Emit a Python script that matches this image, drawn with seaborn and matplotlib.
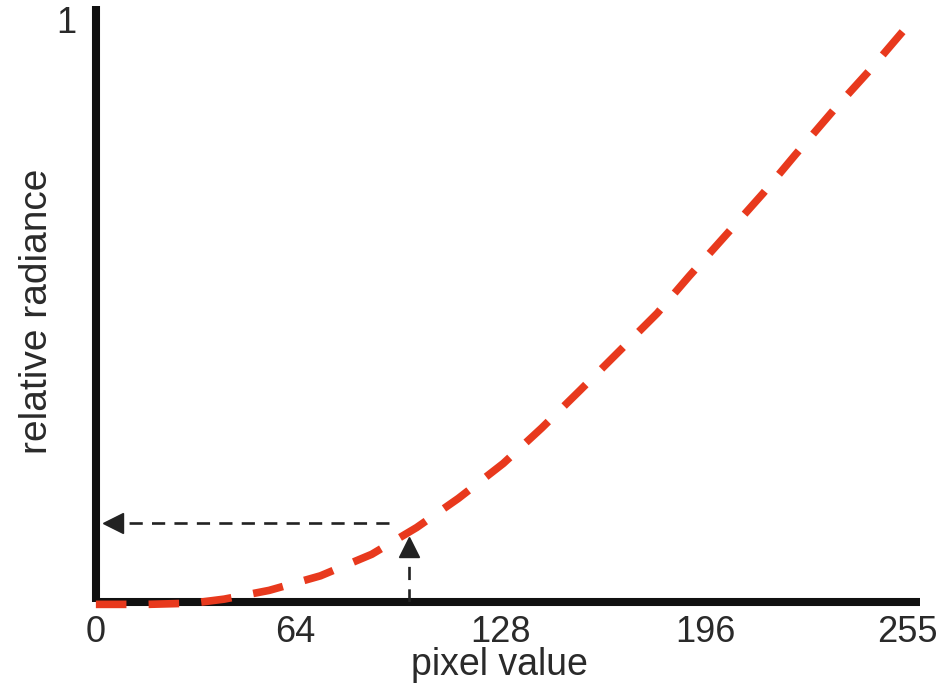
import matplotlib
matplotlib.use("Agg")
import matplotlib.pyplot as plt
from matplotlib.transforms import ScaledTranslation
import seaborn as sns
import pandas as pd

# ---- data ----
pixel_value = [0, 16, 30, 40, 54, 70, 86, 100, 113, 127, 139, 151, 163, 175, 185,
               197, 208, 218, 230, 241, 252, 255]
relative_radiance = [-0.004, -0.004, -0.002, 0.005, 0.020, 0.045, 0.082, 0.128, 0.178,
                     0.238, 0.299, 0.364, 0.430, 0.496, 0.560, 0.634, 0.702, 0.768,
                     0.845, 0.912, 0.983, 1.0]

x_ticks = [0, 64, 128, 192, 255]
x_tick_labels = ["0", "64", "128", "196", "255"]
y_ticks = [1]
y_tick_labels = ["1"]

# sample lookup shown with arrows
sample_pixel = 97.5
sample_radiance = 0.136
sample_arrow_tip_y = 0.11
sample_arrow_tip_x = 2.0

sns.set_theme(style="white")
plt.rcParams["font.family"] = ["Liberation Sans", "DejaVu Sans"]

fig = plt.figure(figsize=(9.4, 6.86), dpi=100)
ax = fig.add_axes([0.102, 0.1224, 0.877, 0.869])

df = pd.DataFrame({"pixel value": pixel_value, "relative radiance": relative_radiance})
red = "#E8391D"
sns.lineplot(data=df, x="pixel value", y="relative radiance", ax=ax, sort=False,
             estimator=None, color=red, lw=5.5, zorder=5, clip_on=False)
ax.lines[-1].set_dashes((4, 2.9))
ax.lines[-1].set_dash_capstyle("butt")

# dashed lookup arrows
dk = "#222222"
ax.plot([sample_pixel, sample_pixel], [0, sample_arrow_tip_y - 0.025], color=dk, lw=1.9,
        dashes=(5, 3.5), zorder=3)
ax.plot([sample_pixel], [sample_arrow_tip_y - 0.015], marker="^", ms=15, color=dk,
        mec=dk, zorder=4, clip_on=False)
ax.plot([sample_pixel - 6, sample_arrow_tip_x + 6], [sample_radiance, sample_radiance],
        color=dk, lw=1.9, dashes=(5, 3.5), zorder=3)
ax.plot([sample_arrow_tip_x + 3.2], [sample_radiance], marker="<", ms=15, color=dk,
        mec=dk, zorder=4, clip_on=False)

ax.set_xlim(0, 257)
ax.set_ylim(0, 1.024)
ax.set_xticks(x_ticks)
ax.set_xticklabels(x_tick_labels)
ax.set_yticks(y_ticks)
ax.set_yticklabels(y_tick_labels)
txt = "#2a2a2a"
ax.tick_params(axis="both", length=0, labelsize=26, colors=txt)
ax.tick_params(axis="x", pad=9)
ax.tick_params(axis="y", pad=14)
for lab in ax.get_xticklabels()[1:]:
    lab.set_transform(lab.get_transform() + ScaledTranslation(-6 / 100, 0, fig.dpi_scale_trans))

ax.set_xlabel("pixel value", fontsize=27, color=txt)
ax.xaxis.set_label_coords(0.49, -0.076)
ax.set_ylabel("relative radiance", fontsize=28, color=txt)
ax.yaxis.set_label_coords(-0.05, 0.488)

for side in ["top", "right"]:
    ax.spines[side].set_visible(False)
for side in ["left", "bottom"]:
    ax.spines[side].set_linewidth(5.8)
    ax.spines[side].set_color("#111111")
    ax.spines[side].set_capstyle("butt")
ax.grid(False)

fig.savefig("out.png", dpi=100, facecolor="white")
